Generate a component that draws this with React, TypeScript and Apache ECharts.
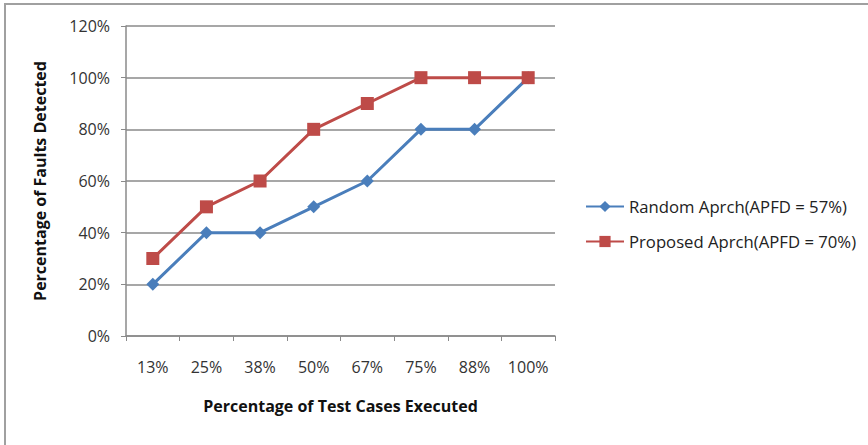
import React, { useEffect, useRef } from "react";
import * as echarts from "echarts";

const categories = ["13%", "25%", "38%", "50%", "67%", "75%", "88%", "100%"];
const randomValues = [20, 40, 40, 50, 60, 80, 80, 100];
const proposedValues = [30, 50, 60, 80, 90, 100, 100, 100];
const seriesNames = ["Random Aprch(APFD = 57%)", "Proposed Aprch(APFD = 70%)"];
const xTitle = "Percentage of Test Cases Executed";
const yTitle = "Percentage of Faults Detected";

const FONT = "'Open Sans', sans-serif";

export default function App() {
  const ref = useRef<HTMLDivElement>(null);
  useEffect(() => {
    document.body.style.margin = "0";
    const chart = echarts.init(ref.current!, null, { renderer: "svg" });
    chart.setOption({
      animation: false,
      backgroundColor: "#ffffff",
      textStyle: { fontFamily: FONT },
      graphic: [
        { type: "line", shape: { x1: 4, y1: 4, x2: 868, y2: 4 }, style: { stroke: "#a0a0a0", lineWidth: 2 } },
        { type: "line", shape: { x1: 5, y1: 4, x2: 5, y2: 445 }, style: { stroke: "#a0a0a0", lineWidth: 2 } },
      ],
      grid: { left: 126, right: 313, top: 26, bottom: 109 },
      legend: {
        orient: "vertical",
        left: 580,
        top: 193,
        itemGap: 18,
        itemWidth: 38,
        itemHeight: 14,
        textStyle: { fontFamily: FONT, fontSize: 16.7, color: "#222" },
        data: seriesNames,
      },
      xAxis: {
        type: "category",
        data: categories,
        boundaryGap: true,
        name: xTitle,
        nameLocation: "middle",
        nameGap: 62,
        nameTextStyle: { fontFamily: FONT, fontSize: 16, fontWeight: "bold", color: "#111" },
        axisLine: { lineStyle: { color: "#8a8a8a", width: 1.5 } },
        axisTick: { show: true, length: 5, inside: false, lineStyle: { color: "#8a8a8a" } },
        axisLabel: { margin: 23, fontFamily: FONT, fontSize: 16, color: "#333" },
      },
      yAxis: {
        type: "value",
        min: 0,
        max: 120,
        interval: 20,
        name: yTitle,
        nameLocation: "middle",
        nameGap: 78,
        nameRotate: 90,
        nameTextStyle: { fontFamily: FONT, fontSize: 16, fontWeight: "bold", color: "#111" },
        axisLine: { show: true, lineStyle: { color: "#8a8a8a", width: 1.5 } },
        axisTick: { show: true, length: 5, inside: false, lineStyle: { color: "#8a8a8a" } },
        axisLabel: { margin: 16, fontFamily: FONT, fontSize: 16, color: "#333", formatter: "{value}%" },
        splitLine: { show: true, lineStyle: { color: "#8a8a8a", width: 1.5 } },
      },
      series: [
        {
          name: seriesNames[0],
          type: "line",
          data: randomValues,
          symbol: "diamond",
          symbolSize: 13,
          color: "#4a7ebb",
          lineStyle: { width: 3, color: "#4a7ebb" },
          itemStyle: { color: "#4a7ebb" },
        },
        {
          name: seriesNames[1],
          type: "line",
          data: proposedValues,
          symbol: "rect",
          symbolSize: 13,
          color: "#be4b48",
          lineStyle: { width: 3, color: "#be4b48" },
          itemStyle: { color: "#be4b48" },
        },
      ],
    });
    return () => chart.dispose();
  }, []);
  return <div ref={ref} style={{ width: 868, height: 445 }} />;
}
